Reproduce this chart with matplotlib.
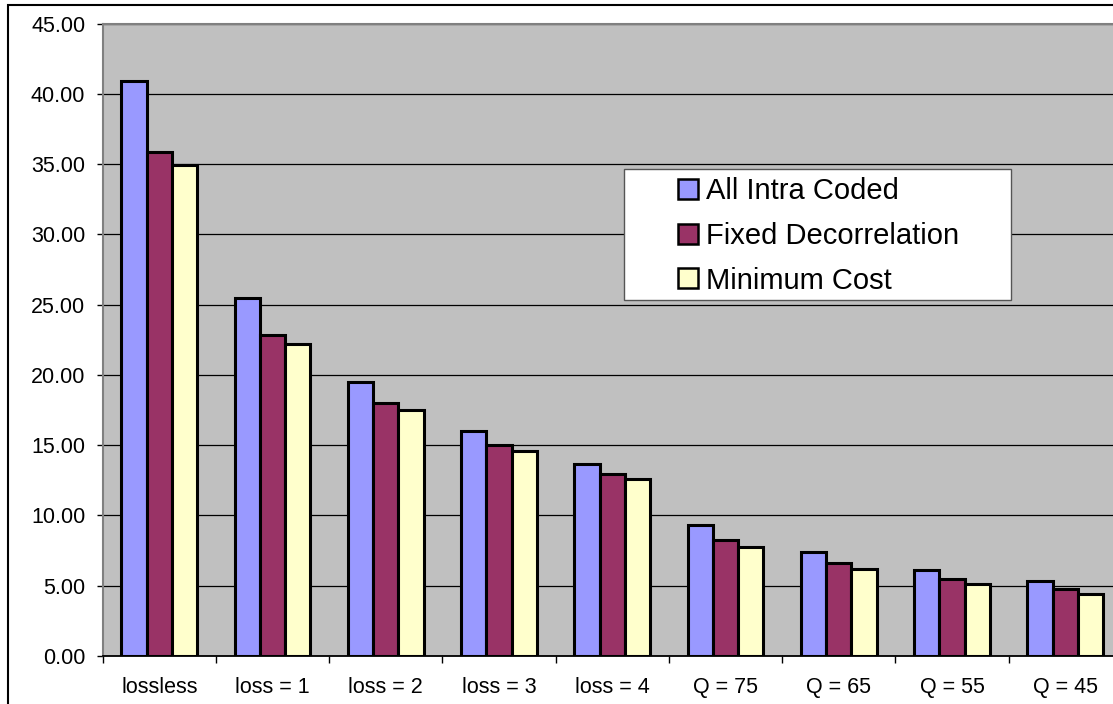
import numpy as np
import matplotlib
matplotlib.use("Agg")
import matplotlib.pyplot as plt
from matplotlib.patches import Rectangle
from matplotlib.ticker import FormatStrFormatter

plt.rcParams['font.family'] = ['Liberation Sans', 'DejaVu Sans']

# data
categories = ['lossless', 'loss = 1', 'loss = 2', 'loss = 3', 'loss = 4',
              'Q = 75', 'Q = 65', 'Q = 55', 'Q = 45']
all_intra = [40.9, 25.44, 19.49, 16.0, 13.66, 9.32, 7.42, 6.12, 5.31]
fixed_decorr = [35.85, 22.83, 18.0, 15.0, 12.94, 8.25, 6.64, 5.48, 4.74]
min_cost = [34.95, 22.19, 17.5, 14.6, 12.6, 7.78, 6.19, 5.12, 4.41]
series_names = ['All Intra Coded', 'Fixed Decorrelation', 'Minimum Cost']
colors = ['#9999FF', '#993366', '#FFFFCC']

W, H = 1113, 704
fig = plt.figure(figsize=(W / 100, H / 100), dpi=100)

# outer chart border (runs off the right and bottom edge)
fig.patches.append(Rectangle((8 / W, -0.1), 1.2, 1 - 5 / H + 0.1,
                             transform=fig.transFigure, fill=False,
                             edgecolor='black', linewidth=1.5, zorder=0))

left, right, top, bottom = 102.7, 1122.0, 23.5, 656.0
ax = fig.add_axes([left / W, 1 - bottom / H, (right - left) / W, (bottom - top) / H])
ax.set_facecolor('#C0C0C0')

x = np.arange(len(categories))
bw = 0.223
for i, (vals, name, c) in enumerate(zip([all_intra, fixed_decorr, min_cost], series_names, colors)):
    ax.bar(x + (i - 1) * bw, vals, bw, color=c, edgecolor='black',
           linewidth=2.2, label=name, zorder=3)

ax.set_xlim(-0.5, len(categories) - 0.5)
ax.set_ylim(0, 45)
ax.set_yticks(np.arange(0, 46, 5))
ax.yaxis.set_major_formatter(FormatStrFormatter('%.2f'))
ax.grid(axis='y', color='black', linewidth=0.9, zorder=1)
ax.set_axisbelow(True)

ax.set_xticks(np.arange(len(categories) + 1) - 0.5)
ax.set_xticklabels([])
ax.set_xticks(x, minor=True)
ax.set_xticklabels(categories, minor=True)
ax.tick_params(axis='x', which='major', direction='out', length=5, width=1, color='black')
ax.tick_params(axis='x', which='minor', length=0, pad=15, labelsize=15.5)
ax.tick_params(axis='y', direction='out', length=4.5, width=1, pad=8, labelsize=15.5)

for s in ['left', 'top']:
    ax.spines[s].set_color('#808080')
    ax.spines[s].set_linewidth(1.5)
ax.spines['bottom'].set_color('black')
ax.spines['bottom'].set_linewidth(1.3)
ax.spines['right'].set_visible(False)

# legend box
lx0, lx1, ly0, ly1 = 624.3, 1011.0, 169.3, 300.0
ax.add_patch(Rectangle((lx0 / W, 1 - ly1 / H), (lx1 - lx0) / W, (ly1 - ly0) / H,
                       transform=fig.transFigure, facecolor='white',
                       edgecolor='#555555', linewidth=1.0, zorder=4))
leg = ax.legend(loc='center', bbox_to_anchor=(818.5 / W, 1 - 236 / H),
                bbox_transform=fig.transFigure, frameon=False, fontsize=21,
                handlelength=0.68, handleheight=0.68, handletextpad=0.27,
                labelspacing=0.57)
for h in leg.legend_handles:
    h.set_linewidth(1.8)
leg.set_zorder(5)

fig.savefig('out.png', dpi=100)
